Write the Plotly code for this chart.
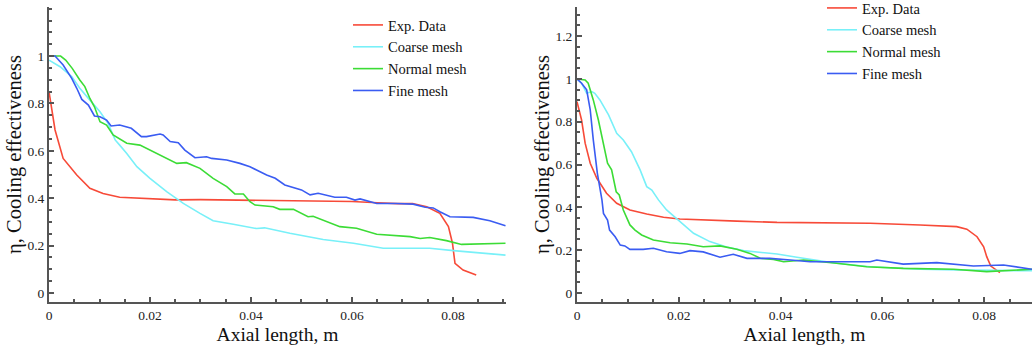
import plotly.graph_objects as go

W, H = 1032, 345

# ---------------- Left panel data ----------------
L_exp_x = [0.0, 0.0012, 0.0028, 0.0055, 0.0081, 0.0107, 0.014, 0.020, 0.025, 0.030, 0.035, 0.040,
           0.045, 0.050, 0.055, 0.060, 0.065, 0.069, 0.072, 0.0748, 0.0774, 0.0791, 0.0799, 0.0804,
           0.082, 0.0846]
L_exp_y = [0.85, 0.688, 0.568, 0.498, 0.442, 0.42, 0.404, 0.397, 0.393, 0.394, 0.393, 0.392,
           0.392, 0.391, 0.390, 0.386, 0.381, 0.377, 0.378, 0.364, 0.336, 0.28, 0.21, 0.125,
           0.097, 0.076]

L_coarse_x = [0.0, 0.0022, 0.0045, 0.0061, 0.0081, 0.0101, 0.0117, 0.0131, 0.014, 0.0154, 0.0174,
              0.020, 0.0233, 0.0266, 0.0299, 0.0325, 0.0365, 0.0391, 0.0411, 0.0427, 0.0477, 0.0543,
              0.0603, 0.0662, 0.0754, 0.0801, 0.0904]
L_coarse_y = [0.983, 0.955, 0.913, 0.864, 0.814, 0.765, 0.716, 0.646, 0.624, 0.589, 0.533,
              0.484, 0.428, 0.378, 0.336, 0.305, 0.29, 0.28, 0.272, 0.275, 0.252, 0.226,
              0.21, 0.189, 0.189, 0.179, 0.16]

L_normal_x = [0.0, 0.0023, 0.0033, 0.0046, 0.0061, 0.0071, 0.0081, 0.009, 0.0101, 0.0114, 0.0127,
              0.0154, 0.018, 0.0213, 0.0226, 0.0253, 0.0272, 0.0299, 0.0325, 0.0352, 0.0368, 0.0385,
              0.0398, 0.0408, 0.0444, 0.0457, 0.0484, 0.0513, 0.0523, 0.0576, 0.0609, 0.0649,
              0.0715, 0.0735, 0.0754, 0.0787, 0.0817, 0.0904]
L_normal_y = [1.0, 1.0, 0.983, 0.948, 0.899, 0.871, 0.821, 0.786, 0.723, 0.709, 0.667,
              0.632, 0.624, 0.589, 0.575, 0.547, 0.55, 0.526, 0.484, 0.449, 0.418, 0.418,
              0.385, 0.371, 0.364, 0.353, 0.353, 0.322, 0.324, 0.28, 0.273, 0.248,
              0.238, 0.23, 0.234, 0.221, 0.205, 0.21]

L_fine_x = [0.0, 0.0012, 0.0028, 0.0045, 0.0055, 0.0065, 0.0078, 0.009, 0.0101, 0.0114, 0.0123,
            0.014, 0.0163, 0.0183, 0.0193, 0.022, 0.0226, 0.024, 0.0256, 0.0269, 0.0289, 0.0312,
            0.0322, 0.0352, 0.0378, 0.0398, 0.0411, 0.0431, 0.0448, 0.0467, 0.050, 0.0517,
            0.0533, 0.0566, 0.0589, 0.0606, 0.0616, 0.0649, 0.0688, 0.0721, 0.0745, 0.0761,
            0.0774, 0.0794, 0.084, 0.0873, 0.0904]
L_fine_y = [1.0, 1.0, 0.962, 0.906, 0.864, 0.817, 0.793, 0.747, 0.744, 0.73, 0.705,
            0.709, 0.695, 0.66, 0.66, 0.671, 0.667, 0.639, 0.634, 0.603, 0.571, 0.575,
            0.568, 0.561, 0.547, 0.533, 0.519, 0.498, 0.484, 0.456, 0.435, 0.414,
            0.421, 0.404, 0.404, 0.392, 0.397, 0.378, 0.378, 0.375, 0.362, 0.359,
            0.343, 0.322, 0.319, 0.305, 0.284]

# ---------------- Right panel data ----------------
R_exp_x = [0.0, 0.0009, 0.0016, 0.0026, 0.0039, 0.0058, 0.0078, 0.0104, 0.0137, 0.017, 0.0202,
           0.0248, 0.0314, 0.0393, 0.0445, 0.0576, 0.0674, 0.0746, 0.0766, 0.0786, 0.0799,
           0.0805, 0.0813, 0.0831]
R_exp_y = [0.894, 0.808, 0.70, 0.606, 0.536, 0.466, 0.419, 0.388, 0.369, 0.354, 0.346,
           0.341, 0.336, 0.330, 0.329, 0.326, 0.318, 0.31, 0.298, 0.263, 0.216,
           0.17, 0.126, 0.095]

R_coarse_x = [0.0, 0.0009, 0.0019, 0.0029, 0.0035, 0.0045, 0.0062, 0.0078, 0.0091, 0.0107, 0.0124,
              0.0137, 0.0147, 0.016, 0.0176, 0.0202, 0.0229, 0.0261, 0.0294, 0.0327, 0.036,
              0.0393, 0.0432, 0.051, 0.0576, 0.0674, 0.0772, 0.0837, 0.0894]
R_coarse_y = [1.0, 0.98, 0.933, 0.941, 0.933, 0.902, 0.832, 0.746, 0.715, 0.66, 0.575,
              0.497, 0.481, 0.435, 0.388, 0.333, 0.279, 0.24, 0.215, 0.198, 0.19,
              0.182, 0.167, 0.139, 0.123, 0.111, 0.107, 0.104, 0.104]

R_normal_x = [0.0, 0.0016, 0.0022, 0.0032, 0.0042, 0.0052, 0.006, 0.0068, 0.0077, 0.0083, 0.0091,
              0.0104, 0.0114, 0.0127, 0.015, 0.0183, 0.0216, 0.0248, 0.0281, 0.0314, 0.034,
              0.036, 0.0386, 0.0406, 0.0445, 0.051, 0.0569, 0.0641, 0.074, 0.0805, 0.0894]
R_normal_y = [1.0, 0.995, 0.98, 0.902, 0.808, 0.70, 0.606, 0.575, 0.473, 0.458, 0.388,
              0.318, 0.294, 0.271, 0.248, 0.235, 0.229, 0.216, 0.22, 0.204, 0.185,
              0.162, 0.157, 0.146, 0.154, 0.139, 0.123, 0.115, 0.111, 0.10, 0.111]

R_fine_x = [0.0, 0.0009, 0.0019, 0.0026, 0.0032, 0.004, 0.0049, 0.0052, 0.006, 0.0064, 0.0075,
            0.0085, 0.0094, 0.0104, 0.013, 0.015, 0.0176, 0.0202, 0.0222, 0.0248, 0.0281,
            0.0307, 0.0334, 0.0379, 0.0419, 0.0458, 0.051, 0.0576, 0.0589, 0.0641, 0.0707,
            0.0779, 0.0838, 0.0894]
R_fine_y = [1.0, 0.98, 0.949, 0.855, 0.715, 0.559, 0.435, 0.372, 0.341, 0.294, 0.263,
            0.224, 0.22, 0.204, 0.204, 0.209, 0.193, 0.185, 0.198, 0.192, 0.167,
            0.181, 0.162, 0.162, 0.154, 0.146, 0.146, 0.146, 0.154, 0.135, 0.142,
            0.126, 0.131, 0.111]

series_names = ["Exp. Data", "Coarse mesh", "Normal mesh", "Fine mesh"]
colors = ["#f74a38", "#78f0f8", "#3cdc36", "#3a5cf2"]

left_x_ticks = [0, 0.02, 0.04, 0.06, 0.08]
left_x_labels = ["0", "0.02", "0.04", "0.06", "0.08"]
left_y_ticks = [0, 0.2, 0.4, 0.6, 0.8, 1.0]
left_y_labels = ["0", "0.2", "0.4", "0.6", "0.8", "1"]
right_y_ticks = [0, 0.2, 0.4, 0.6, 0.8, 1.0, 1.2]
right_y_labels = ["0", "0.2", "0.4", "0.6", "0.8", "1", "1.2"]

FONT = "Liberation Serif"
AX = "#555555"

fig = go.Figure()

left = [(L_exp_x, L_exp_y), (L_coarse_x, L_coarse_y), (L_normal_x, L_normal_y), (L_fine_x, L_fine_y)]
right = [(R_exp_x, R_exp_y), (R_coarse_x, R_coarse_y), (R_normal_x, R_normal_y), (R_fine_x, R_fine_y)]

for (x, y), n, c in zip(left, series_names, colors):
    fig.add_trace(go.Scatter(x=x, y=y, mode="lines", name=n, line=dict(color=c, width=1.6),
                             xaxis="x", yaxis="y", legend="legend"))
for (x, y), n, c in zip(right, series_names, colors):
    fig.add_trace(go.Scatter(x=x, y=y, mode="lines", name=n, line=dict(color=c, width=1.6),
                             xaxis="x2", yaxis="y2", legend="legend2"))

def px_x(p):
    return p / W

def px_y(p):
    return 1 - p / H

common_ax = dict(showline=True, linecolor=AX, linewidth=2, ticks="inside", ticklen=5,
                 tickcolor=AX, tickwidth=1.5, showgrid=False, zeroline=False,
                 tickfont=dict(family=FONT, size=13.5, color="#222"), automargin=False)

xtitle = dict(text="Axial length, m", font=dict(family=FONT, size=19.5, color="#111"), standoff=5)

fig.update_layout(
    width=W, height=H, margin=dict(l=0, r=0, t=0, b=0, autoexpand=False),
    paper_bgcolor="white", plot_bgcolor="white",
    font=dict(family=FONT),
    xaxis=dict(domain=[px_x(49), px_x(506)], range=[0, 0.0905], anchor="y",
               tickvals=left_x_ticks, ticktext=left_x_labels,
               minor=dict(ticks="inside", dtick=0.005, ticklen=3, tickcolor=AX),
               title=xtitle, **common_ax),
    yaxis=dict(domain=[px_y(302), px_y(7)], range=[-0.038, 1.207], anchor="x",
               tickvals=left_y_ticks, ticktext=left_y_labels,
               minor=dict(ticks="inside", dtick=0.05, ticklen=3, tickcolor=AX),
               title=dict(text="η, Cooling effectiveness",
                          font=dict(family=FONT, size=20.5, color="#111"), standoff=0),
               **common_ax),
    xaxis2=dict(domain=[px_x(577), 1.0], range=[0, 0.0894], anchor="y2",
                tickvals=left_x_ticks, ticktext=left_x_labels,
                minor=dict(ticks="inside", dtick=0.005, ticklen=3, tickcolor=AX),
                title=xtitle, **common_ax),
    yaxis2=dict(domain=[px_y(302), px_y(7)], range=[-0.042, 1.336], anchor="x2",
                tickvals=right_y_ticks, ticktext=right_y_labels,
                minor=dict(ticks="inside", dtick=0.05, ticklen=3, tickcolor=AX),
                title=dict(text="η, Cooling effectiveness",
                           font=dict(family=FONT, size=20.5, color="#111"), standoff=0),
                **common_ax),
    legend=dict(x=px_x(348), y=px_y(9), xanchor="left", yanchor="top",
                font=dict(family=FONT, size=14.5, color="#111"), bgcolor="rgba(0,0,0,0)",
                tracegroupgap=0, itemwidth=30),
    legend2=dict(x=px_x(822), y=px_y(-8), xanchor="left", yanchor="top",
                 font=dict(family=FONT, size=14.5, color="#111"), bgcolor="rgba(0,0,0,0)",
                 tracegroupgap=0, itemwidth=30),
)

fig.write_html("out.html")
